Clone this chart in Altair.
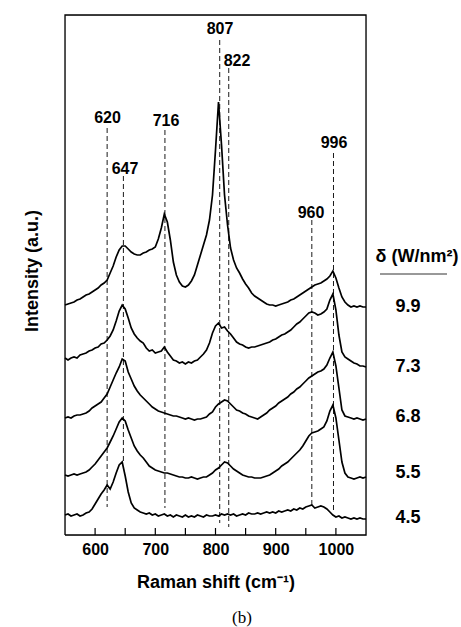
import altair as alt
import pandas as pd

# Raman shift grid (cm^-1)
shift = list(range(550, 1055, 5))

# Intensities (a.u., stacked as drawn)
s99 = [230, 231, 232, 233, 235, 236, 238, 240, 241, 243,
       245, 247, 250, 252, 255, 262, 269, 278, 285, 289,
       289, 286, 283, 281, 280, 280, 282, 283, 285, 286,
       288, 296, 307, 321, 313, 295, 273, 260, 253, 249,
       248, 250, 254, 260, 270, 280, 290, 300, 315, 340,
       385, 433, 390, 340, 310, 287, 275, 267, 262, 256,
       251, 247, 242, 239, 237, 235, 233, 231, 230, 230,
       229, 230, 231, 232, 233, 235, 236, 238, 240, 242,
       244, 246, 248, 250, 251, 252, 254, 256, 259, 264,
       257, 247, 238, 233, 230, 228, 229, 228, 229, 228,
       228]
s73 = [177, 175, 177, 178, 177, 180, 181, 182, 184, 185,
       187, 188, 191, 192, 195, 199, 205, 214, 224, 230,
       226, 217, 207, 201, 197, 194, 192, 187, 184, 185,
       182, 183, 184, 188, 183, 179, 175, 174, 172, 173,
       171, 173, 172, 174, 175, 178, 181, 185, 192, 202,
       209, 212, 207, 208, 204, 201, 197, 193, 191, 190,
       188, 187, 188, 188, 189, 190, 191, 192, 193, 195,
       196, 198, 200, 201, 203, 205, 208, 211, 213, 216,
       219, 222, 223, 222, 220, 221, 223, 226, 235, 241,
       225, 200, 183, 178, 176, 174, 172, 171, 169, 169,
       168]
s68 = [117, 118, 117, 119, 120, 120, 121, 122, 124, 127,
       129, 131, 133, 137, 141, 148, 155, 162, 168, 176,
       174, 163, 156, 149, 144, 140, 137, 134, 131, 128,
       126, 124, 123, 122, 121, 120, 119, 119, 118, 117,
       116, 117, 116, 115, 116, 116, 117, 118, 121, 123,
       128, 131, 133, 135, 134, 131, 128, 125, 124, 122,
       121, 119, 118, 117, 116, 118, 120, 122, 125, 127,
       129, 132, 134, 136, 138, 141, 143, 146, 148, 151,
       154, 157, 159, 161, 163, 164, 166, 170, 177, 183,
       169, 147, 125, 119, 118, 117, 116, 117, 116, 115,
       116]
s55 = [60, 59, 60, 61, 60, 61, 62, 63, 65, 68,
       71, 75, 79, 83, 87, 93, 99, 106, 113, 117,
       114, 105, 97, 89, 84, 80, 77, 73, 69, 67,
       65, 64, 63, 62, 62, 61, 60, 59, 58, 58,
       57, 57, 58, 57, 56, 57, 58, 58, 60, 62,
       65, 67, 70, 73, 72, 69, 66, 64, 62, 60,
       59, 58, 58, 57, 57, 57, 58, 59, 60, 62,
       64, 66, 69, 71, 73, 76, 79, 82, 85, 89,
       94, 99, 102, 103, 104, 106, 108, 114, 124, 130,
       117, 95, 73, 62, 58, 57, 56, 57, 58, 57,
       58]
s45 = [20, 21, 19, 20, 21, 19, 20, 22, 23, 26,
       31, 36, 41, 45, 50, 46, 53, 62, 70, 73,
       59, 43, 32, 27, 25, 23, 22, 21, 22, 20,
       21, 19, 20, 21, 19, 20, 18, 20, 19, 18,
       20, 18, 19, 18, 20, 19, 18, 20, 19, 19,
       20, 19, 21, 20, 21, 20, 21, 19, 20, 21,
       20, 22, 21, 21, 22, 21, 22, 23, 22, 23,
       22, 24, 23, 24, 25, 24, 26, 25, 27, 26,
       28, 29, 30, 27, 28, 29, 28, 26, 23, 20,
       18, 19, 17, 18, 17, 16, 17, 16, 17, 16,
       16]

deltas = ["9.9", "7.3", "6.8", "5.5", "4.5"]
series = [s99, s73, s68, s55, s45]
right_level = [228, 168, 118, 62, 17]

# Peak annotations
peaks = [620, 647, 716, 807, 822, 960, 996]
peak_text = ["620", "647", "716", "807", "822", "960", "996"]
peak_top = [407, 359, 405, 495, 467, 315, 382]
peak_bottom = [28, 73, 27, 12, 8, 28, 22]
label_x = [620.7, 649.7, 717.8, 807.5, 835.7, 958.6, 996.8]
label_level = [417, 366, 414, 506, 474, 322, 392]

tick_values = list(range(600, 1050, 50))
label_values = [600, 700, 800, 900, 1000]
x_range = [550, 1050]
y_range = [0, 520]
tick_len = 7

rows = []
for name, vals in zip(deltas, series):
    for x, v in zip(shift, vals):
        rows.append({"shift": x, "intensity": v, "delta": name})
df = pd.DataFrame(rows)

peaks_df = pd.DataFrame({"peak": peaks, "top": peak_top, "bottom": peak_bottom,
                         "lx": label_x, "ly": label_level, "text": peak_text})
right_df = pd.DataFrame({"delta": deltas, "level": right_level})

# frame as a closed path along the scale domain corners
frame_df = pd.DataFrame({
    "fx": [x_range[0], x_range[0], x_range[1], x_range[1], x_range[0]],
    "fy": [y_range[0], y_range[1], y_range[1], y_range[0], y_range[0]],
    "o": [0, 1, 2, 3, 4],
})
tick_rows = []
for t in tick_values:
    tick_rows.append({"tx": t, "ty": y_range[0], "id": t, "o": 0})
    tick_rows.append({"tx": t, "ty": y_range[0] + tick_len, "id": t, "o": 1})
ticks_df = pd.DataFrame(tick_rows)

xscale = alt.Scale(domain=x_range, nice=False, zero=False)
yscale = alt.Scale(domain=y_range, nice=False, zero=False)

FONT = "Liberation Sans"

lines = alt.Chart(df).mark_line(color="black", strokeWidth=1.7).encode(
    x=alt.X("shift:Q", scale=xscale,
            axis=alt.Axis(values=label_values, format="d", ticks=False, domain=False,
                          grid=False, labelFont=FONT, labelFontWeight="bold",
                          labelFontSize=16, labelColor="black", labelPadding=6,
                          title="Raman shift (cm\u207b\u00b9)", titleFont=FONT,
                          titleFontWeight="bold", titleFontSize=18, titleColor="black",
                          titlePadding=16)),
    y=alt.Y("intensity:Q", scale=yscale, axis=None),
    detail="delta:N",
)

frame = alt.Chart(frame_df).mark_line(color="black", strokeWidth=1.3).encode(
    x=alt.X("fx:Q", scale=xscale),
    y=alt.Y("fy:Q", scale=yscale),
    order="o:Q",
)

inner_ticks = alt.Chart(ticks_df).mark_line(color="black", strokeWidth=1.2).encode(
    x=alt.X("tx:Q", scale=xscale),
    y=alt.Y("ty:Q", scale=yscale),
    detail="id:N",
    order="o:Q",
)

dashes = alt.Chart(peaks_df).mark_rule(color="black", strokeWidth=0.9,
                                       strokeDash=[5, 3]).encode(
    x=alt.X("peak:Q", scale=xscale),
    y=alt.Y("top:Q", scale=yscale),
    y2="bottom:Q",
)

peak_labels = alt.Chart(peaks_df).mark_text(font=FONT, fontWeight="bold", fontSize=16,
                                            color="black", baseline="middle").encode(
    x=alt.X("lx:Q", scale=xscale),
    y=alt.Y("ly:Q", scale=yscale),
    text="text:N",
)

right_labels = alt.Chart(right_df).mark_text(font=FONT, fontWeight="bold", fontSize=18,
                                             color="black", baseline="middle").encode(
    x=alt.value(343),
    y=alt.Y("level:Q", scale=yscale),
    text="delta:N",
)

header = alt.Chart(pd.DataFrame({"t": ["\u03b4 (W/nm\u00b2)"]})).mark_text(
    font=FONT, fontWeight="bold", fontSize=18, color="black", baseline="middle").encode(
    x=alt.value(352), y=alt.value(242), text="t:N")

underline = alt.Chart(pd.DataFrame({"a": [0]})).mark_rule(color="#333333", strokeWidth=1).encode(
    x=alt.value(315), x2=alt.value(382), y=alt.value(259))

ytitle = alt.Chart(pd.DataFrame({"t": ["Intensity (a.u.)"]})).mark_text(
    font=FONT, fontWeight="bold", fontSize=18, color="black", angle=270,
    baseline="middle").encode(x=alt.value(-32), y=alt.value(256), text="t:N")

caption = alt.Chart(pd.DataFrame({"t": ["(b)"]})).mark_text(
    font="Liberation Serif", fontSize=17, color="black", baseline="middle").encode(
    x=alt.value(177), y=alt.value(603), text="t:N")

chart = alt.layer(lines, frame, inner_ticks, dashes, peak_labels,
                  right_labels, header, underline, ytitle, caption).properties(
    width=301, height=520,
    background="white",
    autosize=alt.AutoSizeParams(type="none"),
    padding={"left": 65, "top": 15, "right": 95, "bottom": 92},
)

chart.save("out.html", embed_options={"renderer": "svg", "actions": False})
